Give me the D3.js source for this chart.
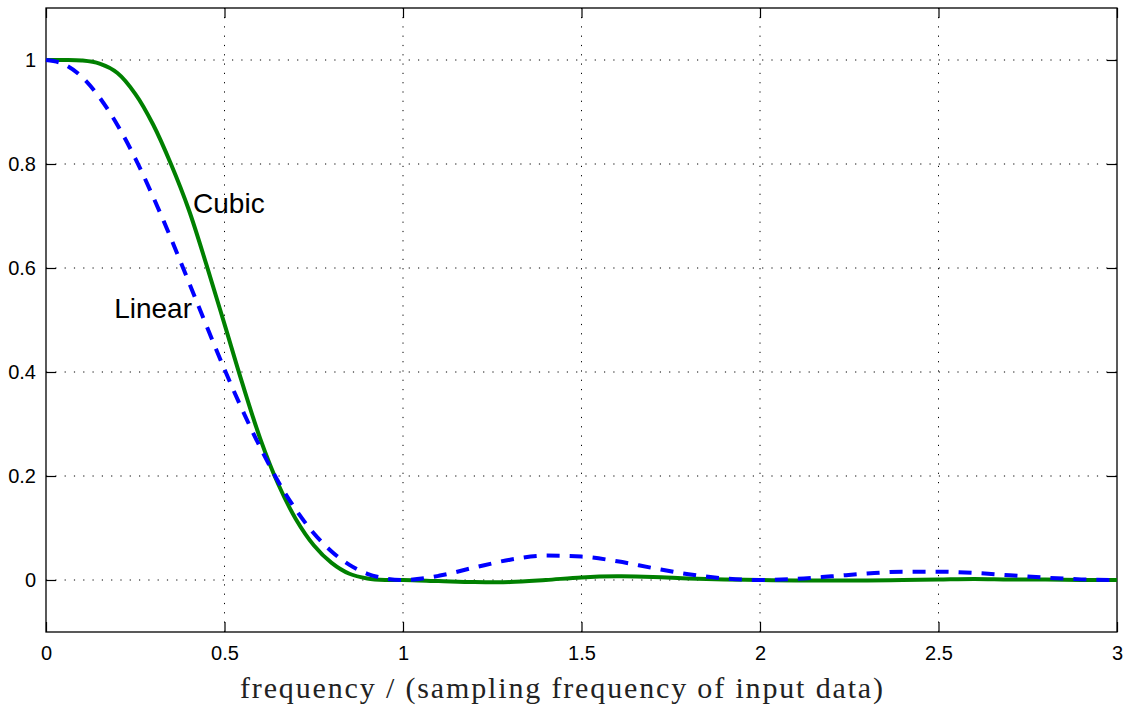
<!DOCTYPE html>
<html>
<head>
<meta charset="utf-8">
<script src="https://cdn.jsdelivr.net/npm/d3@7/dist/d3.min.js"></script>
<style>
  html, body { margin: 0; padding: 0; background: #fff; }
  svg { display: block; }
</style>
</head>
<body>
<svg id="chart" width="1133" height="713"></svg>
<script>
// ---- data ----
const freqFine = [0, 0.05, 0.10, 0.15, 0.20, 0.25, 0.30, 0.35, 0.40, 0.45, 0.50,
                  0.55, 0.60, 0.65, 0.70, 0.75, 0.80, 0.85, 0.90, 0.95, 1.00,
                  1.10, 1.20, 1.30, 1.40, 1.50, 1.60, 1.70, 1.80, 1.90, 2.00,
                  2.10, 2.20, 2.30, 2.40, 2.50, 2.60, 2.70, 2.80, 2.90, 3.00];
const linearResp = [1.000, 0.992, 0.968, 0.928, 0.875, 0.811, 0.737, 0.657, 0.573, 0.488, 0.405,
                    0.327, 0.255, 0.190, 0.135, 0.090, 0.055, 0.029, 0.012, 0.003, 0.000,
                    0.008, 0.024, 0.039, 0.047, 0.045, 0.036, 0.023, 0.011, 0.003, 0.000,
                    0.002, 0.007, 0.0125, 0.016, 0.016, 0.0136, 0.009, 0.0045, 0.0012, 0.000];
const cubicResp = [1.000, 1.000, 0.999, 0.993, 0.975, 0.935, 0.876, 0.800, 0.712, 0.605, 0.492,
                   0.378, 0.272, 0.185, 0.117, 0.067, 0.033, 0.012, 0.003, 0.000, 0.000,
                   -0.002, -0.004, -0.004, 0.000, 0.005, 0.007, 0.006, 0.003, 0.001, 0.000,
                   -0.001, -0.001, -0.001, 0.000, 0.001, 0.002, 0.001, 0.001, 0.000, 0.000];
const xTicks = [0, 0.5, 1, 1.5, 2, 2.5, 3];
const xTickLabels = ["0", "0.5", "1", "1.5", "2", "2.5", "3"];
const yTicks = [0, 0.2, 0.4, 0.6, 0.8, 1];
const yTickLabels = ["0", "0.2", "0.4", "0.6", "0.8", "1"];
const seriesNames = ["Linear", "Cubic"];
const labelAnchors = [[0.191, 0.504], [0.412, 0.706]];
const xTitle = "frequency / (sampling frequency of input data)";

// ---- layout ----
const svg = d3.select("#chart");
const x = d3.scaleLinear().domain([0, 3]).range([46, 1117]);
const y = d3.scaleLinear().domain([-0.1, 1.1]).range([632, 8]);
const tickLen = 10;

// grid
const grid = svg.append("g");
grid.selectAll("line.h").data(yTicks).join("line")
  .attr("x1", x(0)).attr("x2", x(3))
  .attr("y1", d => y(d)).attr("y2", d => y(d))
  .attr("stroke", "#000").attr("stroke-width", 1)
  .attr("stroke-dasharray", "1.2,8.1");
grid.selectAll("line.v").data(xTicks.filter(d => d > 0 && d < 3)).join("line")
  .attr("x1", d => x(d)).attr("x2", d => x(d))
  .attr("y1", y(-0.1)).attr("y2", y(1.1))
  .attr("stroke", "#000").attr("stroke-width", 1)
  .attr("stroke-dasharray", "1.2,8.1");

// axes (ticks inward on all four sides)
const fmtX = (d, i) => xTickLabels[i];
const fmtY = (d, i) => yTickLabels[i];
const axB = svg.append("g").attr("transform", `translate(0,${y(-0.1)})`)
  .call(d3.axisBottom(x).tickValues(xTicks).tickFormat(fmtX).tickSize(-tickLen).tickPadding(14));
const axT = svg.append("g").attr("transform", `translate(0,${y(1.1)})`)
  .call(d3.axisTop(x).tickValues(xTicks).tickFormat("").tickSize(-tickLen));
const axL = svg.append("g").attr("transform", `translate(${x(0)},0)`)
  .call(d3.axisLeft(y).tickValues(yTicks).tickFormat(fmtY).tickSize(-tickLen).tickPadding(6));
const axR = svg.append("g").attr("transform", `translate(${x(3)},0)`)
  .call(d3.axisRight(y).tickValues(yTicks).tickFormat("").tickSize(-tickLen));
[axB, axT, axL, axR].forEach(a => {
  a.select(".domain").remove();
  a.selectAll(".tick line").attr("stroke", "#000").attr("stroke-width", 1.2);
  a.selectAll(".tick text").attr("fill", "#000")
    .style("font-family", "'Liberation Sans', Arial, sans-serif").style("font-size", "20px");
});
axL.selectAll(".tick text").attr("dx", "-4");

// box
svg.append("rect")
  .attr("x", x(0)).attr("y", y(1.1))
  .attr("width", x(3) - x(0)).attr("height", y(-0.1) - y(1.1))
  .attr("fill", "none").attr("stroke", "#000").attr("stroke-width", 1.3);

// curves
const lineCubic = d3.line().x(d => x(d[0])).y(d => y(d[1])).curve(d3.curveCatmullRom.alpha(0.5));
const lineLinear = d3.line().x(d => x(d[0])).y(d => y(d[1])).curve(d3.curveMonotoneX);
const plot = svg.append("g");
plot.append("path")
  .datum(freqFine.map((f, i) => [f, cubicResp[i]]))
  .attr("d", lineCubic).attr("fill", "none")
  .attr("stroke", "#008000").attr("stroke-width", 4).attr("stroke-linejoin", "round");
plot.append("path")
  .datum(freqFine.map((f, i) => [f, linearResp[i]]))
  .attr("d", lineLinear).attr("fill", "none")
  .attr("stroke", "#0000ff").attr("stroke-width", 4)
  .attr("stroke-dasharray", "13,10");

// series labels
svg.selectAll("text.lbl").data(seriesNames).join("text")
  .attr("class", "lbl")
  .attr("x", (d, i) => x(labelAnchors[i][0]))
  .attr("y", (d, i) => y(labelAnchors[i][1]))
  .attr("fill", "#000")
  .style("font-family", "'Liberation Sans', Arial, sans-serif")
  .style("font-size", "28px")
  .text(d => d);

// x title
svg.append("text")
  .attr("x", 561.5).attr("y", 698)
  .attr("text-anchor", "middle")
  .attr("fill", "#222")
  .attr("textLength", 643).attr("lengthAdjust", "spacing")
  .style("font-family", "'Liberation Serif', 'Times New Roman', serif")
  .style("font-size", "30px")
  .text(xTitle);
</script>
</body>
</html>
